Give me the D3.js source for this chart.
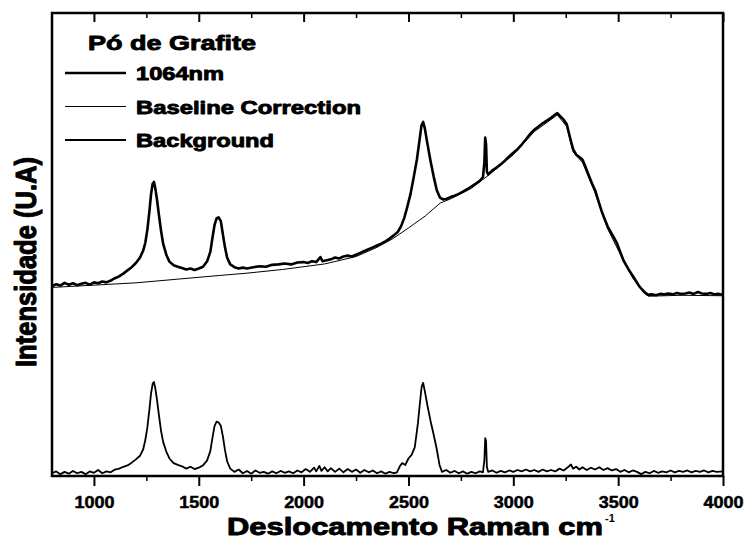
<!DOCTYPE html>
<html lang="pt">

<head>
    <meta charset="UTF-8">
    <title>Raman - Pó de Grafite</title>
    <style>
        html,
        body {
            background-color: white;
            margin: 0;
        }

        svg {
            background-color: white;
            display: block;
        }

        text {
            font-family: "Liberation Sans", Arial, sans-serif;
            font-weight: bold;
            fill: black;
        }

        text.heavy {
            stroke: black;
            stroke-width: 0.9px;
            stroke-linejoin: round;
        }
    </style>
</head>

<body>
    <main></main>
    <script src="https://d3js.org/d3.v7.min.js"></script>
    <script>
        // - - - - - - - - - -
        // Data (deslocamento Raman cm-1, intensidade U.A.)
        // - - - - - - - - - -
        const xTickValues = [1000, 1500, 2000, 2500, 3000, 3500, 4000];
        const xMinorValues = [1250, 1750, 2250, 2750, 3250, 3750];
        const legendTitle = 'Pó de Grafite';
        const seriesNames = ['1064nm', 'Baseline Correction', 'Background'];

        const spectrum1064 = [
            [800, 41.2], [820, 41.6], [840, 41.3], [860, 41.9], [880, 41.5], [900, 41.8], [920, 41.4],
            [940, 41.7], [960, 41.9], [980, 41.5], [1000, 42.0], [1020, 41.8], [1040, 42.2], [1060, 42.0],
            [1080, 42.4], [1100, 42.9], [1120, 43.3], [1140, 43.9], [1160, 44.6], [1180, 45.3], [1200, 46.2],
            [1220, 47.4], [1235, 48.9], [1245, 50.6], [1255, 53.5], [1265, 57.6], [1272, 61.0], [1280, 63.4],
            [1286, 63.8], [1292, 62.6], [1300, 60.2], [1310, 56.6], [1320, 53.2], [1330, 50.4], [1345, 48.0],
            [1360, 46.5], [1380, 45.7], [1400, 45.4], [1420, 45.1], [1440, 44.8], [1460, 45.0], [1480, 44.7],
            [1500, 45.0], [1520, 45.4], [1540, 46.6], [1555, 48.6], [1565, 51.6], [1575, 54.4], [1585, 55.9],
            [1595, 56.1], [1605, 55.3], [1615, 52.4], [1625, 49.6], [1635, 47.4], [1650, 45.9], [1670, 45.3],
            [1690, 45.0], [1710, 45.2], [1730, 45.0], [1760, 45.3], [1790, 45.5], [1820, 45.4], [1850, 45.8],
            [1880, 45.9], [1910, 46.1], [1940, 45.9], [1970, 46.3], [2000, 46.4], [2020, 46.2], [2040, 46.6],
            [2060, 46.4], [2080, 47.5], [2090, 46.6], [2110, 46.8], [2130, 47.0], [2150, 47.4], [2170, 47.2],
            [2190, 47.6], [2210, 47.8], [2230, 47.6], [2250, 48.0], [2270, 48.4], [2290, 48.8], [2310, 49.2],
            [2330, 49.6], [2350, 50.0], [2370, 50.4], [2390, 50.9], [2410, 51.5], [2430, 52.2], [2450, 53.0],
            [2465, 54.2], [2480, 56.0], [2495, 58.5], [2510, 61.2], [2525, 64.8], [2540, 68.6], [2552, 72.6],
            [2562, 76.0], [2570, 76.8], [2578, 75.4], [2590, 72.2], [2605, 68.4], [2620, 65.0], [2635, 62.0],
            [2650, 60.4], [2665, 60.0], [2680, 60.1], [2700, 60.5], [2720, 60.8], [2740, 61.2], [2760, 61.7],
            [2780, 62.2], [2800, 62.8], [2820, 63.4], [2840, 64.0], [2855, 64.8], [2862, 68.0], [2866, 73.4],
            [2870, 72.0], [2874, 66.0], [2880, 65.4], [2900, 66.3], [2920, 66.9], [2940, 67.6], [2960, 68.4],
            [2980, 69.3], [3000, 70.1], [3020, 70.9], [3040, 71.9], [3060, 73.0], [3080, 74.2], [3100, 75.1],
            [3120, 75.8], [3140, 76.5], [3160, 77.1], [3180, 77.7], [3200, 78.4], [3210, 78.7], [3220, 78.2],
            [3240, 77.3], [3255, 76.3], [3265, 74.4], [3275, 72.6], [3285, 70.9], [3300, 69.7], [3315, 69.2],
            [3330, 68.6], [3345, 67.0], [3360, 65.2], [3375, 63.5], [3390, 62.0], [3405, 59.8], [3420, 57.6],
            [3435, 55.8], [3450, 54.1], [3465, 52.9], [3480, 51.7], [3495, 50.4], [3510, 48.6], [3525, 46.8],
            [3540, 45.6], [3555, 44.4], [3570, 43.4], [3585, 42.3], [3600, 41.2], [3615, 40.4], [3630, 39.7],
            [3645, 39.3], [3660, 39.4], [3680, 39.2], [3700, 39.5], [3720, 39.4], [3740, 39.6], [3760, 39.4],
            [3780, 39.7], [3800, 39.5], [3820, 39.6], [3840, 39.8], [3860, 39.5], [3880, 39.9], [3900, 39.6],
            [3920, 39.5], [3940, 39.7], [3960, 39.4], [3980, 39.5], [4000, 39.3]
        ];

        const baselineCorrection = [
            [800, 40.9], [1000, 41.4], [1200, 41.9], [1400, 42.7], [1600, 43.5], [1730, 44.0], [1900, 44.8],
            [2100, 46.0], [2250, 47.6], [2350, 49.6], [2426, 51.5], [2500, 53.8], [2580, 56.4], [2651, 59.2],
            [2700, 60.1], [2800, 62.4], [2900, 65.9], [3000, 69.7], [3100, 74.7], [3200, 78.0], [3210, 78.3],
            [3255, 75.8], [3285, 70.3], [3330, 68.0], [3390, 61.4], [3450, 53.6], [3510, 48.1], [3570, 42.9],
            [3630, 39.4], [3645, 39.0], [3800, 39.2], [4000, 39.1]
        ];

        const background = [
            [800, 0.6], [820, 1.0], [840, 0.4], [860, 0.9], [880, 0.5], [900, 1.1], [920, 0.6], [940, 0.9],
            [960, 0.4], [980, 1.0], [1000, 0.7], [1020, 1.3], [1040, 0.6], [1060, 1.0], [1080, 0.8], [1100, 1.4],
            [1120, 1.6], [1140, 2.0], [1160, 2.3], [1180, 2.9], [1200, 3.6], [1220, 4.4], [1235, 5.8], [1245, 7.8],
            [1255, 10.6], [1265, 14.6], [1272, 17.8], [1280, 20.0], [1286, 20.4], [1292, 19.2], [1300, 16.8],
            [1310, 13.2], [1320, 9.8], [1330, 7.4], [1345, 5.3], [1360, 3.8], [1380, 2.8], [1400, 2.4],
            [1420, 2.1], [1440, 1.6], [1460, 2.0], [1480, 1.5], [1500, 1.8], [1520, 2.3], [1540, 3.4],
            [1555, 5.4], [1565, 8.2], [1575, 10.8], [1585, 11.8], [1595, 11.6], [1605, 10.9], [1615, 8.6],
            [1625, 5.6], [1635, 3.2], [1650, 1.6], [1670, 0.9], [1690, 1.4], [1710, 0.6], [1730, 1.1],
            [1750, 0.5], [1770, 1.2], [1790, 0.7], [1810, 0.9], [1830, 0.5], [1850, 1.0], [1870, 0.6],
            [1890, 1.1], [1910, 0.7], [1930, 1.0], [1950, 0.6], [1970, 1.2], [1990, 0.8], [2010, 1.5],
            [2030, 0.9], [2050, 1.8], [2060, 1.0], [2075, 2.2], [2085, 1.1], [2100, 1.9], [2115, 1.0],
            [2130, 1.7], [2150, 0.9], [2170, 1.6], [2190, 0.8], [2210, 1.5], [2230, 0.9], [2250, 1.4],
            [2270, 0.7], [2290, 1.3], [2310, 0.8], [2330, 1.2], [2350, 0.6], [2370, 1.0], [2390, 0.5],
            [2410, 0.9], [2430, 0.6], [2445, 0.8], [2460, 2.2], [2470, 2.8], [2485, 2.4], [2500, 3.8],
            [2515, 4.6], [2530, 6.2], [2545, 11.4], [2555, 16.0], [2563, 19.4], [2570, 20.2], [2578, 18.4],
            [2590, 15.4], [2605, 12.0], [2620, 9.0], [2635, 5.8], [2648, 2.4], [2660, 0.9], [2680, 1.3],
            [2700, 0.7], [2720, 1.1], [2740, 0.6], [2760, 1.0], [2780, 0.5], [2800, 0.9], [2820, 0.6],
            [2840, 1.0], [2855, 0.8], [2862, 3.4], [2866, 8.2], [2870, 7.6], [2874, 2.0], [2880, 0.9],
            [2900, 1.2], [2920, 0.7], [2940, 1.1], [2960, 0.8], [2980, 1.2], [3000, 0.9], [3020, 1.3],
            [3040, 1.0], [3060, 1.4], [3080, 1.0], [3100, 1.3], [3120, 0.9], [3140, 1.4], [3160, 1.0],
            [3180, 1.3], [3200, 1.0], [3220, 1.6], [3240, 1.2], [3260, 1.9], [3275, 2.5], [3285, 1.6],
            [3300, 2.0], [3315, 1.4], [3330, 1.9], [3350, 1.3], [3370, 1.8], [3390, 1.4], [3410, 1.9],
            [3430, 1.3], [3450, 1.7], [3470, 1.2], [3490, 1.5], [3510, 0.9], [3530, 1.3], [3550, 0.8],
            [3570, 1.2], [3590, 0.9], [3610, 0.4], [3630, 0.9], [3650, 0.6], [3670, 1.1], [3690, 0.7],
            [3710, 1.0], [3730, 0.8], [3750, 1.2], [3770, 0.8], [3790, 1.1], [3810, 0.9], [3830, 1.2],
            [3850, 0.8], [3870, 1.1], [3890, 0.9], [3910, 1.2], [3930, 0.8], [3950, 1.1], [3970, 0.9],
            [4000, 1.0]
        ];

        !(function () {
            'use strict';
            // - - - - - - - - - -
            // 1. Global declaration
            // - - - - - - - - - -
            let
                svg,
                x, y,
                canvas = { width: 750, height: 541 },
                plot = { left: 52, right: 723, top: 13, bottom: 476 };

            // - - - - - - - - - -
            // 2. Functions
            // - - - - - - - - - -

            /** Set the svg container and the scales */
            function setSvg() {
                svg = d3.select('main')
                    .append('svg')
                    .attr('width', canvas.width)
                    .attr('height', canvas.height);

                x = d3.scaleLinear().domain([800, 4000]).range([plot.left, plot.right]);
                y = d3.scaleLinear().domain([0, 100]).range([plot.bottom, 15]);
            }

            /** Axes, frame and tick labels */
            function drawAxes() {
                let bottom, top;

                bottom = svg.append('g')
                    .attr('transform', 'translate(0,' + plot.bottom + ')')
                    .call(d3.axisBottom(x).tickValues(xTickValues).tickSize(10).tickPadding(10)
                        .tickFormat(d3.format('d')));
                bottom.select('.domain').remove();
                bottom.selectAll('line').attr('stroke-width', 2);
                bottom.selectAll('text')
                    .attr('class', 'heavy')
                    .style('stroke-width', '0.5px')
                    .attr('font-size', 17)
                    .attr('textLength', 40)
                    .attr('lengthAdjust', 'spacingAndGlyphs');

                svg.append('g')
                    .attr('transform', 'translate(0,' + plot.bottom + ')')
                    .call(d3.axisBottom(x).tickValues(xMinorValues).tickSize(5).tickFormat(''))
                    .call(function (g) { g.select('.domain').remove(); })
                    .selectAll('line').attr('stroke-width', 1.5);

                top = svg.append('g')
                    .attr('transform', 'translate(0,' + plot.top + ')')
                    .call(d3.axisTop(x).tickValues(xTickValues).tickSize(-9).tickFormat(''));
                top.select('.domain').remove();
                top.selectAll('line').attr('stroke-width', 2);

                svg.append('g')
                    .attr('transform', 'translate(0,' + plot.top + ')')
                    .call(d3.axisTop(x).tickValues(xMinorValues).tickSize(-5).tickFormat(''))
                    .call(function (g) { g.select('.domain').remove(); })
                    .selectAll('line').attr('stroke-width', 1.5);

                svg.append('rect')
                    .attr('x', plot.left)
                    .attr('y', plot.top)
                    .attr('width', plot.right - plot.left)
                    .attr('height', plot.bottom - plot.top)
                    .attr('fill', 'none')
                    .attr('stroke', 'black')
                    .attr('stroke-width', 2.5);

                // axis titles
                svg.append('text')
                    .attr('class', 'heavy')
                    .attr('x', 227)
                    .attr('y', 535)
                    .attr('font-size', 23)
                    .attr('textLength', 376)
                    .attr('lengthAdjust', 'spacingAndGlyphs')
                    .text('Deslocamento Raman cm');
                svg.append('text')
                    .attr('x', 605)
                    .attr('y', 522)
                    .attr('font-size', 11)
                    .text('-1');

                svg.append('text')
                    .attr('class', 'heavy')
                    .attr('transform', 'translate(36,262) rotate(-90) scale(1,1.25)')
                    .attr('text-anchor', 'middle')
                    .attr('font-size', 24)
                    .attr('textLength', 210)
                    .attr('lengthAdjust', 'spacingAndGlyphs')
                    .text('Intensidade (U.A)');
            }

            /** The spectra */
            function drawLines() {
                let line = d3.line()
                    .x(function (d) { return x(d[0]); })
                    .y(function (d) { return y(d[1]); });

                svg.append('path')
                    .datum(baselineCorrection)
                    .attr('d', line)
                    .attr('fill', 'none')
                    .attr('stroke', 'black')
                    .attr('stroke-width', 1);

                svg.append('path')
                    .datum(spectrum1064)
                    .attr('d', line)
                    .attr('fill', 'none')
                    .attr('stroke', 'black')
                    .attr('stroke-width', 2.6)
                    .attr('stroke-linejoin', 'round');

                svg.append('path')
                    .datum(background)
                    .attr('d', line)
                    .attr('fill', 'none')
                    .attr('stroke', 'black')
                    .attr('stroke-width', 1.8)
                    .attr('stroke-linejoin', 'round');
            }

            /** Legend in the upper left corner */
            function drawLegend() {
                let widths = [88, 225, 138],
                    strokes = [2.6, 1, 1.8],
                    rows;

                svg.append('text')
                    .attr('class', 'heavy')
                    .attr('x', 88)
                    .attr('y', 50)
                    .attr('font-size', 21)
                    .attr('textLength', 168)
                    .attr('lengthAdjust', 'spacingAndGlyphs')
                    .text(legendTitle);

                rows = svg.append('g')
                    .selectAll('g')
                    .data(seriesNames)
                    .enter().append('g')
                    .attr('transform', function (d, i) {
                        return 'translate(0,' + (73 + i * 33.5) + ')';
                    });

                rows.append('line')
                    .attr('x1', 65).attr('x2', 126)
                    .attr('stroke', 'black')
                    .attr('stroke-width', function (d, i) { return strokes[i]; });

                rows.append('text')
                    .attr('class', 'heavy')
                    .attr('x', 136)
                    .attr('y', 7)
                    .attr('font-size', 19)
                    .attr('textLength', function (d, i) { return widths[i]; })
                    .attr('lengthAdjust', 'spacingAndGlyphs')
                    .text(function (d) { return d; });
            }

            // - - - - - - - - - -
            // 3. Main control
            // - - - - - - - - - -
            function main() {
                setSvg();
                drawLines();
                drawAxes();
                drawLegend();
            }

            main();
        }());
    </script>
</body>

</html>
